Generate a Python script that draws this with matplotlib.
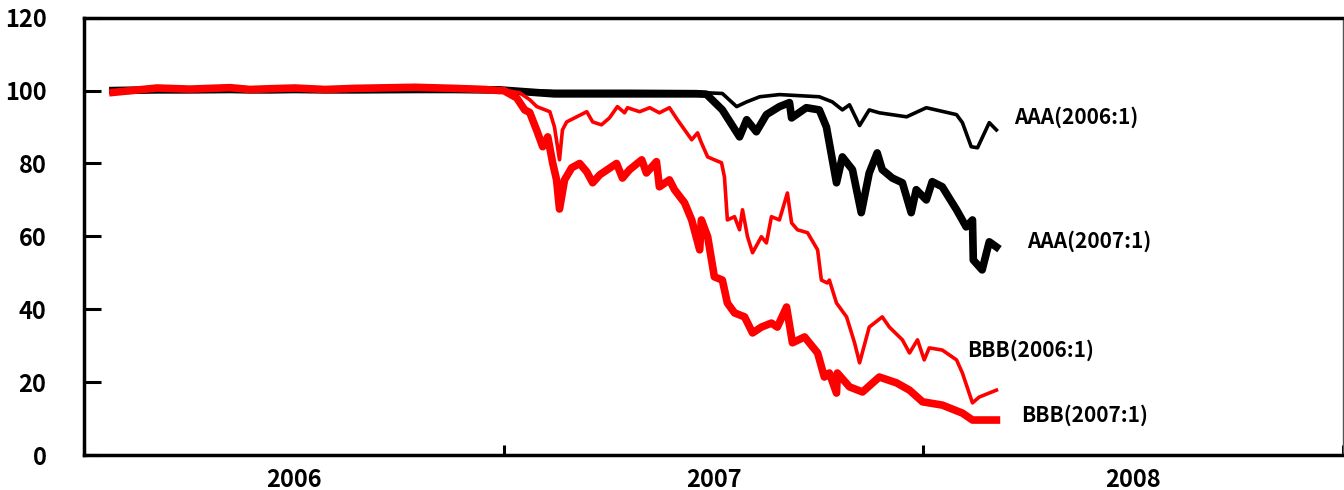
import numpy as np
import matplotlib.pyplot as plt
from matplotlib.ticker import FixedLocator

plt.rcParams['font.family'] = ['Noto Sans CJK JP', 'DejaVu Sans']
plt.rcParams['font.weight'] = 'bold'

# time in decimal years, values indexed to 100
t_flat = [2006.069, 2006.174, 2006.252, 2006.348, 2006.395, 2006.443, 2006.502,
          2006.574, 2006.645, 2006.788, 2006.883, 2006.955, 2006.990]
v_red_flat = [99.5, 100.7, 100.4, 100.8, 100.3, 100.5, 100.7, 100.3, 100.6, 100.9, 100.6, 100.3, 100.0]
v_black_flat = [100.0, 100.2, 100.2, 100.3, 100.2, 100.2, 100.3, 100.2, 100.2, 100.3, 100.3, 100.2, 100.2]

t_aaa06 = [2007.0, 2007.12, 2007.3, 2007.46, 2007.483, 2007.521, 2007.555, 2007.579, 2007.61,
           2007.657, 2007.752, 2007.783, 2007.807, 2007.824, 2007.848, 2007.871, 2007.895, 2007.96,
           2008.007, 2008.079, 2008.093, 2008.114, 2008.129, 2008.157, 2008.174]
v_aaa06 = [100.1, 99.8, 99.8, 99.7, 99.4, 99.2, 95.6, 96.9, 98.3,
           98.9, 98.3, 96.9, 94.7, 96.1, 90.4, 94.7, 93.9, 92.8,
           95.3, 93.4, 91.2, 84.6, 84.3, 91.2, 89.2]

t_aaa07 = [2007.0, 2007.121, 2007.3, 2007.46, 2007.483, 2007.521, 2007.562, 2007.579, 2007.602,
           2007.626, 2007.657, 2007.681, 2007.686, 2007.721, 2007.752, 2007.769, 2007.793, 2007.807,
           2007.831, 2007.852, 2007.871, 2007.89, 2007.902, 2007.926, 2007.95, 2007.971, 2007.983,
           2008.007, 2008.021, 2008.045, 2008.079, 2008.102, 2008.117, 2008.119, 2008.14, 2008.157,
           2008.174]
v_aaa07 = [100.1, 99.1, 99.1, 99.1, 99.0, 94.7, 87.3, 92.0, 88.7,
           93.4, 95.6, 96.7, 92.5, 95.3, 94.7, 90.0, 74.7, 81.8,
           78.3, 66.5, 77.4, 82.9, 78.3, 76.0, 74.7, 66.5, 72.8,
           70.0, 75.0, 73.6, 67.3, 62.6, 64.5, 53.5, 50.8, 58.5,
           57.1]

t_bbb06 = [2007.0, 2007.038, 2007.062, 2007.079, 2007.11, 2007.121, 2007.133, 2007.14, 2007.15,
           2007.174, 2007.198, 2007.212, 2007.233, 2007.252, 2007.271, 2007.288, 2007.295, 2007.324,
           2007.348, 2007.371, 2007.395, 2007.414, 2007.448, 2007.462, 2007.471, 2007.486, 2007.502,
           2007.519, 2007.526, 2007.533, 2007.55, 2007.562, 2007.569, 2007.581, 2007.593, 2007.614,
           2007.626, 2007.638, 2007.657, 2007.676, 2007.686, 2007.7, 2007.724, 2007.748, 2007.757,
           2007.771, 2007.776, 2007.793, 2007.817, 2007.836, 2007.848, 2007.871, 2007.902, 2007.919,
           2007.95, 2007.967, 2007.986, 2008.002, 2008.014, 2008.045, 2008.079, 2008.093, 2008.117,
           2008.133, 2008.174]
v_bbb06 = [100.2, 99.4, 97.5, 95.6, 94.2, 90.0, 81.0, 89.2, 91.4,
           92.8, 94.2, 91.4, 90.6, 92.5, 95.6, 93.9, 95.3, 94.2,
           95.3, 93.9, 95.3, 92.0, 86.5, 88.4, 85.7, 81.8, 81.0,
           80.2, 76.3, 64.5, 65.4, 61.8, 67.3, 59.9, 55.5, 59.9,
           58.2, 65.4, 64.5, 71.9, 63.7, 61.8, 61.0, 56.3, 48.0,
           47.2, 48.0, 41.7, 37.9, 30.8, 25.3, 35.1, 37.9, 35.1,
           31.6, 28.0, 31.6, 26.1, 29.4, 28.8, 26.1, 22.5, 14.3,
           15.9, 17.8]

t_bbb07 = [2007.0, 2007.031, 2007.05, 2007.062, 2007.079, 2007.093, 2007.105, 2007.117, 2007.126,
           2007.133, 2007.145, 2007.162, 2007.181, 2007.198, 2007.212, 2007.229, 2007.269, 2007.283,
           2007.3, 2007.329, 2007.34, 2007.364, 2007.371, 2007.395, 2007.407, 2007.431, 2007.448,
           2007.467, 2007.471, 2007.486, 2007.502, 2007.521, 2007.533, 2007.55, 2007.574, 2007.593,
           2007.614, 2007.638, 2007.652, 2007.674, 2007.688, 2007.717, 2007.748, 2007.764, 2007.776,
           2007.793, 2007.795, 2007.824, 2007.855, 2007.895, 2007.936, 2007.967, 2007.998, 2008.045,
           2008.093, 2008.117, 2008.15, 2008.174]
v_bbb07 = [100.0, 98.0, 94.7, 94.0, 89.0, 84.6, 87.3, 80.0, 75.5,
           67.5, 75.5, 78.8, 80.0, 77.7, 74.7, 76.9, 80.0, 76.0,
           78.3, 81.0, 77.4, 80.5, 73.6, 75.5, 72.8, 69.2, 64.5,
           56.3, 64.5, 59.9, 48.9, 48.0, 41.7, 39.0, 37.9, 33.5,
           35.1, 36.2, 35.1, 40.6, 30.8, 32.4, 28.0, 21.4, 22.5,
           17.0, 22.5, 18.7, 17.3, 21.4, 19.8, 17.8, 14.6, 13.7,
           11.5, 9.6, 9.6, 9.6]

labels = ['AAA(2006:1)', 'AAA(2007:1)', 'BBB(2006:1)', 'BBB(2007:1)']
label_t = [2008.217, 2008.248, 2008.105, 2008.233]
label_v = [92.7, 58.7, 28.8, 11.0]

year_edges = [2006, 2007, 2008, 2009]
year_names = ['2006', '2007', '2008']

fig = plt.figure(figsize=(13.44, 4.9), dpi=100, facecolor='white')
ax = fig.add_axes([0.0625, 0.0714, 0.9368, 0.8925])

ax.plot(t_flat + t_aaa06, v_black_flat + v_aaa06, c='black', lw=2.6)
ax.plot(t_flat + t_aaa07, v_black_flat + v_aaa07, c='black', lw=5.5)
ax.plot(t_flat + t_bbb06, v_red_flat + v_bbb06, c='#ff0000', lw=2.6)
ax.plot(t_flat + t_bbb07, v_red_flat + v_bbb07, c='#ff0000', lw=5.5)

for name, tx, vy in zip(labels, label_t, label_v):
    ax.text(tx, vy, name, ha='left', va='center', fontsize=15, fontweight='bold')

ax.set_xlim(2006, 2009)
ax.set_ylim(0, 120)
ax.yaxis.set_ticks(np.arange(0, 121, 20))
ax.xaxis.set_major_locator(FixedLocator(year_edges))
ax.xaxis.set_minor_locator(FixedLocator([y + 0.5 for y in year_edges[:-1]]))
ax.xaxis.set_major_formatter(plt.NullFormatter())
ax.xaxis.set_minor_formatter(plt.FixedFormatter(year_names))

ax.tick_params(axis='y', direction='in', length=12, width=2.2, labelsize=17, pad=27)
ax.tick_params(axis='x', which='major', direction='in', length=7, width=2.2)
ax.tick_params(axis='x', which='minor', length=0, labelsize=17, pad=9)

for side in ['left', 'bottom', 'top']:
    ax.spines[side].set_linewidth(2.5)
ax.spines['right'].set_linewidth(1)
ax.spines['right'].set_color('#555555')

fig.savefig('out.png', dpi=100)
